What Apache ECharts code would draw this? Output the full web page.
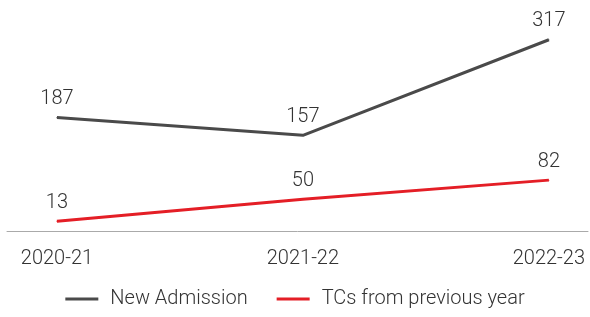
<!DOCTYPE html>
<html>
<head>
<meta charset="utf-8">
<script src="https://cdn.jsdelivr.net/npm/echarts@6/dist/echarts.min.js"></script>
<style>
  html, body { margin: 0; padding: 0; background: #fff; }
  #chart { width: 590px; height: 317px; }
</style>
</head>
<body>
<div id="chart"></div>
<script>
const years = ["2020-21", "2021-22", "2022-23"];
const newAdmission = [187, 157, 317];
const tcsPrevYear = [13, 50, 82];

const FONT = "Roboto";
const textColor = "#333";

function toPoints(values) {
  return values.map((v, i) => [i, v]);
}

const chart = echarts.init(document.getElementById("chart"));

const labelStyle = {
  show: true,
  position: "top",
  distance: 8,
  color: textColor,
  fontFamily: FONT,
  fontWeight: 300,
  fontSize: 20
};

chart.setOption({
  animation: false,
  grid: { left: 7, right: 2, top: 26, bottom: 85.5 },
  xAxis: {
    type: "value",
    min: -0.203,
    max: 2.159,
    axisLine: { show: true, onZero: false, lineStyle: { color: "#aaa", width: 1 } },
    axisTick: { show: false },
    splitLine: { show: false },
    axisLabel: {
      customValues: [0, 1, 2],
      formatter: (v) => years[Math.round(v)],
      color: textColor,
      fontFamily: FONT,
      fontWeight: 300,
      fontSize: 20,
      margin: 17
    }
  },
  yAxis: {
    type: "value",
    min: -4,
    max: 340,
    show: false,
    splitLine: { show: false }
  },
  legend: {
    bottom: 3,
    left: "center",
    icon: "rect",
    itemWidth: 33,
    itemHeight: 3,
    itemGap: 29,
    textStyle: {
      color: textColor,
      fontFamily: FONT,
      fontWeight: 300,
      fontSize: 20,
      padding: [0, 0, 0, 7]
    },
    data: ["New Admission", "TCs from previous year"]
  },
  series: [
    {
      name: "New Admission",
      type: "line",
      data: toPoints(newAdmission),
      symbol: "circle",
      symbolSize: 1,
      lineStyle: { color: "#4a4a4a", width: 3 },
      itemStyle: { color: "#4a4a4a" },
      label: labelStyle
    },
    {
      name: "TCs from previous year",
      type: "line",
      data: toPoints(tcsPrevYear),
      symbol: "circle",
      symbolSize: 1,
      lineStyle: { color: "#e41e26", width: 3 },
      itemStyle: { color: "#e41e26" },
      label: labelStyle
    }
  ]
});
</script>
</body>
</html>
